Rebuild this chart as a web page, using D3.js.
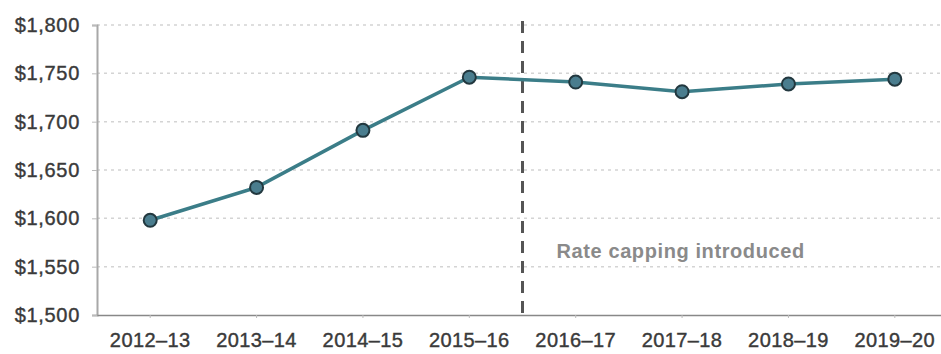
<!DOCTYPE html>
<html>
<head>
<meta charset="utf-8">
<script src="https://cdn.jsdelivr.net/npm/d3@7"></script>
<style>
  body { margin: 0; background: #fff; }
  svg { display: block; font-family: "Liberation Sans", Arial, sans-serif; }
</style>
</head>
<body>
<svg></svg>
<script>
const width = 941;
const height = 354;

const margin = { top: 25, right: -7, bottom: 39, left: 97 };

// datos
const years = ["2012–13", "2013–14", "2014–15", "2015–16", "2016–17", "2017–18", "2018–19", "2019–20"];
const values = [1598, 1632, 1691, 1746, 1741, 1731, 1739, 1744];
const yTicks = [1500, 1550, 1600, 1650, 1700, 1750, 1800];
const capYear = "2016–17";
const capLabel = "Rate capping introduced";

const data = years.map((y, i) => ({ year: y, value: values[i] }));

const svg = d3.select("svg").attr("width", width).attr("height", height);

const x = d3
  .scaleBand()
  .domain(years)
  .range([margin.left, width - margin.right]);

const y = d3
  .scaleLinear()
  .domain([1500, 1800])
  .range([height - margin.bottom, margin.top]);

// rejilla
svg
  .append("g")
  .selectAll("line")
  .data(yTicks.slice(1))
  .enter()
  .append("line")
  .attr("x1", margin.left)
  .attr("x2", width)
  .attr("y1", (d) => y(d))
  .attr("y2", (d) => y(d))
  .attr("stroke", "#d4d4d4")
  .attr("stroke-width", 1.5)
  .attr("stroke-dasharray", "3,4");

// eje Y
const yAxis = svg
  .append("g")
  .attr("transform", `translate(${margin.left},0)`)
  .call(
    d3.axisLeft(y)
      .tickValues(yTicks)
      .tickSize(5)
      .tickPadding(12)
      .tickFormat((d) => "$" + d3.format(",")(d))
  );
yAxis.select(".domain").attr("stroke", "#a8a8a8").attr("stroke-width", 2);
yAxis.selectAll(".tick line").attr("stroke", "#bbb");
yAxis
  .selectAll(".tick text")
  .style("font-size", "20px")
  .style("letter-spacing", "0.7px")
  .attr("fill", "#3a3a3a")
  .attr("stroke", "#3a3a3a")
  .attr("stroke-width", 0.4);

// eje X
const xAxis = svg
  .append("g")
  .attr("transform", `translate(0,${height - margin.bottom})`)
  .call(d3.axisBottom(x).tickSize(3).tickSizeOuter(0).tickPadding(15));
xAxis.select(".domain").attr("stroke", "#888").attr("stroke-width", 1.5);
xAxis.selectAll(".tick line").attr("stroke", "#bbb");
xAxis
  .selectAll(".tick text")
  .style("font-size", "20px")
  .style("letter-spacing", "0.4px")
  .attr("fill", "#3a3a3a")
  .attr("stroke", "#3a3a3a")
  .attr("stroke-width", 0.4);

// línea vertical discontinua
const capX = x(capYear);
svg
  .append("line")
  .attr("x1", capX)
  .attr("x2", capX)
  .attr("y1", y(1800) - 4)
  .attr("y2", y(1500))
  .attr("stroke", "#555")
  .attr("stroke-width", 3)
  .attr("stroke-dasharray", "12,8");

svg
  .append("text")
  .attr("x", capX + 34)
  .attr("y", y(1560) + 1)
  .style("font-size", "20px")
  .style("font-weight", "bold")
  .style("letter-spacing", "0.6px")
  .attr("fill", "#8a8a8a")
  .text(capLabel);

// serie
const line = d3
  .line()
  .x((d) => x(d.year) + x.bandwidth() / 2)
  .y((d) => y(d.value));

svg
  .append("path")
  .datum(data)
  .attr("fill", "none")
  .attr("stroke", "#3b7d88")
  .attr("stroke-width", 3.5)
  .attr("d", line);

svg
  .append("g")
  .selectAll("circle")
  .data(data)
  .enter()
  .append("circle")
  .attr("cx", (d) => x(d.year) + x.bandwidth() / 2)
  .attr("cy", (d) => y(d.value))
  .attr("r", 6.5)
  .attr("fill", "#4a7d8e")
  .attr("stroke", "#22383f")
  .attr("stroke-width", 2);
</script>
</body>
</html>
